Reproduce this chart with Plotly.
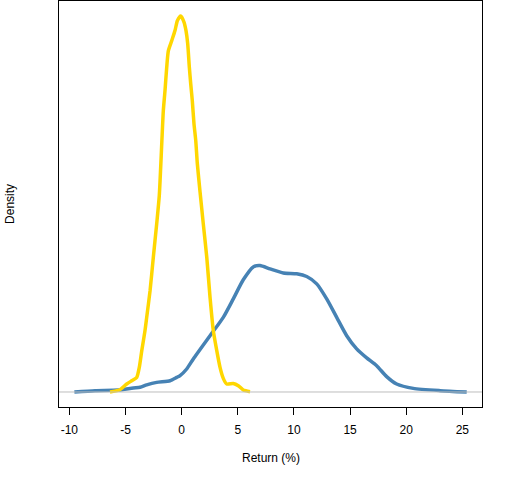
import plotly.graph_objects as go

# density estimates (x in %, y in density units)
gold_x = [-6.38, -5.56, -4.89, -4.44, -4.00, -3.77, -3.55, -3.26, -3.11, -2.81,
          -2.52, -2.22, -1.99, -1.77, -1.63, -1.48, -1.33, -1.18, -0.88, -0.59,
          -0.38, -0.08, 0.21, 0.39, 0.54, 0.69, 0.81, 0.95, 1.10, 1.26,
          1.40, 1.64, 1.93, 2.24, 2.53, 2.82, 3.13, 3.42, 3.72, 4.02,
          4.60, 5.05, 5.49, 6.09]
gold_y = [0.0, 0.0013, 0.0053, 0.0075, 0.0097, 0.0164, 0.0275, 0.0409, 0.0497, 0.0675,
          0.0897, 0.112, 0.1307, 0.1653, 0.1873, 0.2007, 0.216, 0.2273, 0.234, 0.2407,
          0.2473, 0.2504, 0.2464, 0.2407, 0.232, 0.216, 0.2053, 0.194, 0.1787, 0.1673,
          0.152, 0.1333, 0.112, 0.0897, 0.0631, 0.0409, 0.0275, 0.0164, 0.0089, 0.0053,
          0.0057, 0.0042, 0.0013, 0.0002]

blue_x = [-9.55, -7.71, -5.64, -4.30, -3.70, -3.11, -2.22, -1.03, -0.44, -0.14,
          0.45, 1.04, 2.53, 3.71, 4.60, 5.49, 6.38,
          6.98, 7.87, 9.06, 10.25, 11.14, 12.03, 12.92, 13.81, 14.70, 15.59,
          16.48, 17.37, 18.26, 19.15, 20.63, 23.01, 25.39]
blue_y = [0.0, 0.0009, 0.0013, 0.0027, 0.0031, 0.0047, 0.0064, 0.0075, 0.0097, 0.0109,
          0.0153, 0.022, 0.0375, 0.0497, 0.062, 0.0747, 0.0833,
          0.0842, 0.082, 0.0793, 0.0787, 0.0769, 0.072, 0.062, 0.0497, 0.0375, 0.0287,
          0.0227, 0.0175, 0.0102, 0.0053, 0.0024, 0.0009, 0.0]

x_ticks = [-10, -5, 0, 5, 10, 15, 20, 25]
x_ticktext = [str(v) for v in x_ticks]  # plain hyphen minus like the original

fig = go.Figure()

# grey baseline at zero density
fig.add_hline(y=0, line=dict(color="#BEBEBE", width=1))

fig.add_trace(go.Scatter(x=blue_x, y=blue_y, mode="lines",
                         line=dict(color="#4682B4", width=3.5, shape="spline", smoothing=0.6)))
fig.add_trace(go.Scatter(x=gold_x, y=gold_y, mode="lines",
                         line=dict(color="#FFD700", width=3.5, shape="spline", smoothing=0.6)))

fig.update_layout(
    width=512, height=480,
    margin=dict(l=59, r=30, t=1, b=73),
    plot_bgcolor="white", paper_bgcolor="white",
    showlegend=False,
    font=dict(family="Liberation Sans, Arial, sans-serif", size=12, color="black"),
    xaxis=dict(range=[-10.92, 26.75], tickvals=x_ticks, ticktext=x_ticktext,
               ticks="outside", ticklen=7, tickcolor="black", ticklabelstandoff=5,
               showgrid=False, zeroline=False,
               showline=True, linecolor="black", linewidth=1, mirror=True),
    yaxis=dict(range=[-0.01, 0.2604], showticklabels=False, ticks="",
               showgrid=False, zeroline=False,
               showline=True, linecolor="black", linewidth=1, mirror=True),
    annotations=[
        dict(text="Return (%)", xref="paper", yref="paper", x=0.5, y=-0.125,
             showarrow=False, xanchor="center", yanchor="middle"),
        dict(text="Density", xref="paper", yref="paper", x=-0.116, y=0.5,
             showarrow=False, textangle=-90, xanchor="center", yanchor="middle"),
    ],
)

# drop the browser's default page margin so the figure sits at the top-left corner
fig.write_html("out.html", config={"displayModeBar": False},
               post_script="document.body.style.margin='0';")
